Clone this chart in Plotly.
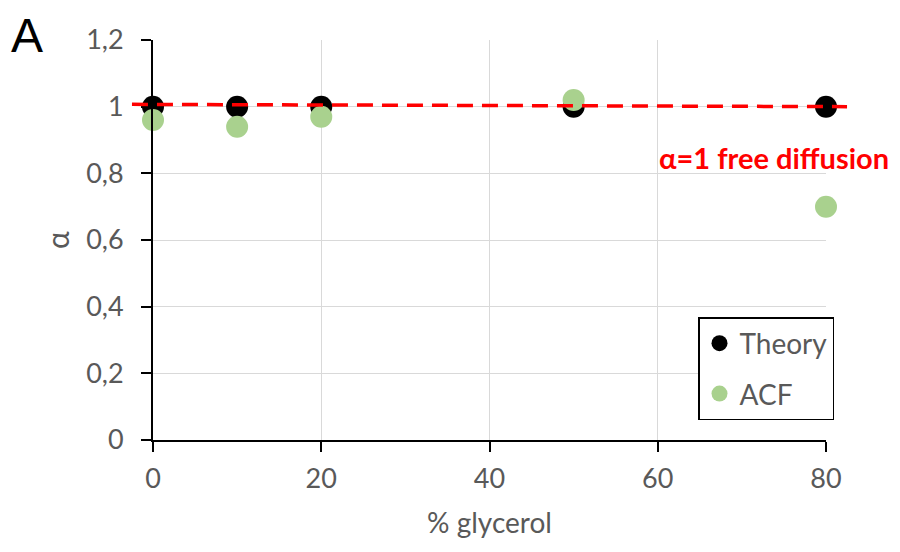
import plotly.graph_objects as go

glycerol = [0, 10, 20, 50, 80]
theory = [1, 1, 1, 1, 1]
acf = [0.96, 0.94, 0.97, 1.02, 0.70]

ref_x = [-2.5, 82.5]
ref_y = [1.007, 1.0]
ref_label = "α=1 free diffusion"

x_range = [0, 80]
y_range = [0, 1.2]

FONT = "Lato"
GREY = "#595959"

fig = go.Figure()
fig.add_trace(go.Scatter(x=glycerol, y=theory, mode="markers", name="Theory",
                         marker=dict(color="black", size=22), cliponaxis=False,
                         legendgroup="g1"))
fig.add_trace(go.Scatter(x=glycerol, y=acf, mode="markers", name="ACF",
                         marker=dict(color="#a9d18e", size=22), cliponaxis=False,
                         legendgroup="g2"))

def px(v):
    return (v - x_range[0]) / (x_range[1] - x_range[0])

def py(v):
    return (v - y_range[0]) / (y_range[1] - y_range[0])

fig.add_shape(type="line", xref="paper", yref="paper",
              x0=px(ref_x[0]), x1=px(ref_x[1]), y0=py(ref_y[0]), y1=py(ref_y[1]),
              line=dict(color="#ff0000", width=3.5, dash="16px,9px"), layer="above")

fig.add_annotation(x=1.0966, y=py(0.849), xref="paper", yref="paper",
                   text="<b>" + ref_label + "</b>", showarrow=False,
                   xanchor="right", yanchor="middle",
                   font=dict(family=FONT, size=29, color="#ff0000"))

fig.add_annotation(x=-0.212, y=1.0795, xref="paper", yref="paper", text="A",
                   showarrow=False, xanchor="left", yanchor="top", borderpad=0,
                   font=dict(family="Liberation Sans", size=48, color="black"))

fig.update_layout(
    width=900, height=552,
    margin=dict(l=145, r=82, t=32, b=120),
    plot_bgcolor="white", paper_bgcolor="white",
    separators=", ",
    font=dict(family=FONT, size=27, color=GREY),
    showlegend=True,
    legend=dict(x=(698 - 153) / 673, y=(440 - 317) / 400, xanchor="left", yanchor="top",
                bordercolor="black", borderwidth=1.5, bgcolor="white",
                font=dict(family=FONT, size=28, color=GREY),
                tracegroupgap=11, itemwidth=30),
    xaxis=dict(range=x_range, dtick=20, showgrid=True, gridcolor="#d9d9d9", gridwidth=1.3,
               showline=True, linecolor="black", linewidth=2,
               ticks="outside", ticklen=10, tickwidth=2, tickcolor="black",
               ticklabelstandoff=4, zeroline=False, automargin=False,
               title=dict(text="% glycerol", font=dict(size=28, color=GREY), standoff=20),
               tickfont=dict(size=27, color=GREY)),
    yaxis=dict(range=y_range, dtick=0.2, showgrid=True, gridcolor="#d9d9d9", gridwidth=1.3,
               showline=True, linecolor="black", linewidth=2,
               ticks="outside", ticklen=10, tickwidth=2, tickcolor="black",
               ticklabelstandoff=12, zeroline=False, automargin=False,
               title=dict(text="α", font=dict(size=30, color=GREY), standoff=8),
               tickfont=dict(size=27, color=GREY)),
)

fig.write_html("out.html")
